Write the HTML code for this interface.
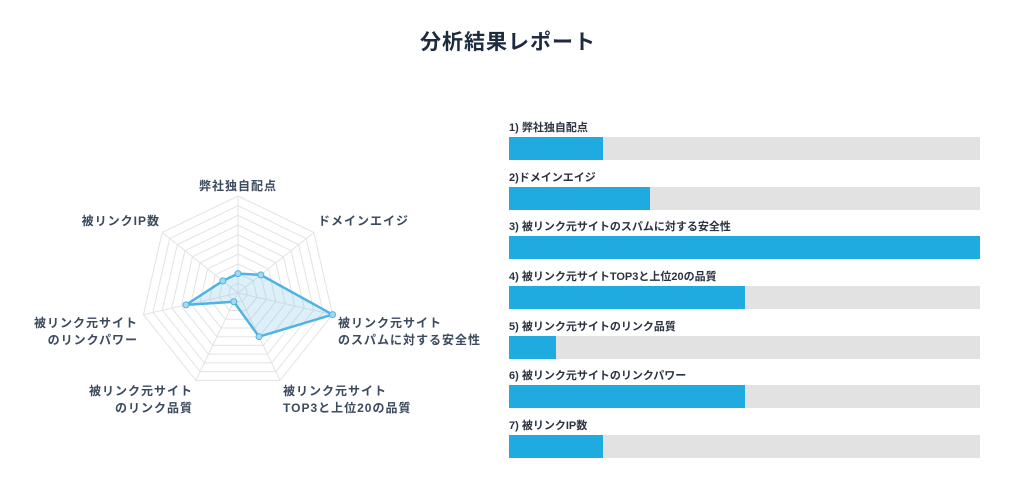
<!DOCTYPE html>
<html><head><meta charset="utf-8"><style>
body{margin:0;width:1024px;height:498px;background:#fff;font-family:"Liberation Sans","Noto Sans CJK JP",sans-serif;position:relative;overflow:hidden}
h1{position:absolute;top:26px;left:0;width:1016px;text-align:center;margin:0;font-size:21px;font-weight:bold;color:#1d2b3e;letter-spacing:1px}
.lab{position:absolute;left:509px;font-size:11px;font-weight:bold;color:#2a3340}
.bar{position:absolute;left:509px;width:471px;height:23px;background:#e2e2e2}
.bar div{height:100%;background:#1fabe0}
svg text{font-size:12px;font-weight:bold;fill:#3b4a5e;letter-spacing:1px;font-family:"Liberation Sans","Noto Sans CJK JP",sans-serif}
</style></head><body>
<h1>分析結果レポート</h1>
<svg id="r" width="1024" height="498" style="position:absolute;left:0;top:0">
<g id="g"></g>
<text x="238" y="190" text-anchor="middle">弊社独自配点</text>
<text x="318" y="225">ドメインエイジ</text>
<text x="338" y="327">被リンク元サイト</text>
<text x="338" y="344">のスパムに対する安全性</text>
<text x="283" y="395">被リンク元サイト</text>
<text x="283" y="412">TOP3と上位20の品質</text>
<text x="193" y="395" text-anchor="end">被リンク元サイト</text>
<text x="193" y="412" text-anchor="end">のリンク品質</text>
<text x="138" y="327" text-anchor="end">被リンク元サイト</text>
<text x="138" y="344" text-anchor="end">のリンクパワー</text>
<text x="160" y="225" text-anchor="end">被リンクIP数</text>
</svg>
<script>
var cx=238,cy=293,R=97,g=document.getElementById('g'),s='';
function pt(k,r){var a=k*2*Math.PI/7;return [cx+r*Math.sin(a),cy-r*Math.cos(a)];}
for(var i=1;i<=10;i++){var p=[];for(var k=0;k<7;k++)p.push(pt(k,R*i/10).join(','));s+='<polygon points="'+p.join(' ')+'" fill="none" stroke="#e3e3e3" stroke-width="1"/>';}
for(var k=0;k<7;k++){var q=pt(k,R);s+='<line x1="'+cx+'" y1="'+cy+'" x2="'+q[0]+'" y2="'+q[1]+'" stroke="#e3e3e3"/>';}
var v=[0.2,0.3,1.0,0.5,0.1,0.55,0.2],p=[];
for(var k=0;k<7;k++)p.push(pt(k,R*v[k]).join(','));
s+='<polygon points="'+p.join(' ')+'" fill="rgba(120,195,230,0.25)" stroke="#4fb3e3" stroke-width="2.5" stroke-linejoin="round"/>';
for(var k=0;k<7;k++){var q=pt(k,R*v[k]);s+='<circle cx="'+q[0]+'" cy="'+q[1]+'" r="3" fill="#a8d8f0" stroke="#4fb3e3"/>';}
g.innerHTML=s;
</script>
<div class="lab" style="top:119px">1) 弊社独自配点</div><div class="bar" style="top:137px"><div style="width:20%"></div></div>
<div class="lab" style="top:169px">2)ドメインエイジ</div><div class="bar" style="top:187px"><div style="width:30%"></div></div>
<div class="lab" style="top:218px">3) 被リンク元サイトのスパムに対する安全性</div><div class="bar" style="top:236px"><div style="width:100%"></div></div>
<div class="lab" style="top:268px">4) 被リンク元サイトTOP3と上位20の品質</div><div class="bar" style="top:286px"><div style="width:50%"></div></div>
<div class="lab" style="top:318px">5) 被リンク元サイトのリンク品質</div><div class="bar" style="top:336px"><div style="width:10%"></div></div>
<div class="lab" style="top:367px">6) 被リンク元サイトのリンクパワー</div><div class="bar" style="top:385px"><div style="width:50%"></div></div>
<div class="lab" style="top:417px">7) 被リンクIP数</div><div class="bar" style="top:435px"><div style="width:20%"></div></div>
</body></html>
